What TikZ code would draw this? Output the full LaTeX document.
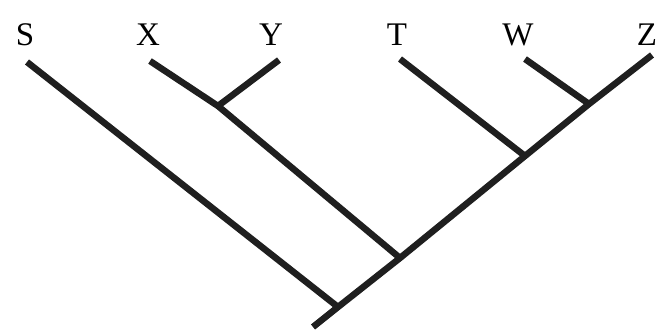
\documentclass[tikz,border=0pt]{standalone}
\usepackage{fontspec}
\setmainfont{Liberation Serif}
\tikzset{branch/.style={line width=6.5pt,black!88},
  taxon/.style={font=\fontsize{33}{36}\selectfont,inner sep=0pt}}
\begin{document}
\begin{tikzpicture}[x=1pt,y=-1pt]
\useasboundingbox (0,0) rectangle (663,334);
\node[taxon] (lS) at (25,35) {S};
\node[taxon] (lX) at (148,35) {X};
\node[taxon] (lY) at (271,35) {Y};
\node[taxon] (lT) at (397,35) {T};
\node[taxon] (lW) at (518,35) {W};
\node[taxon] (lZ) at (647,35) {Z};
\coordinate (root) at (313,327);
\coordinate (jS) at (338,307);
\coordinate (jX) at (400,258);
\coordinate (jT) at (525,156);
\coordinate (jW) at (589,104);
\coordinate (jY) at (218,106);
\coordinate (tZ) at (652,55);
\draw[branch] (root) -- (jS) -- (jX) -- (jT) -- (jW) -- (tZ);
\draw[branch] (27,62) -- (jS);
\draw[branch] (150,61) -- (jY) -- (jX);
\draw[branch] (279,60) -- (jY);
\draw[branch] (400,59) -- (jT);
\draw[branch] (525,59) -- (jW);
\end{tikzpicture}
\end{document}
